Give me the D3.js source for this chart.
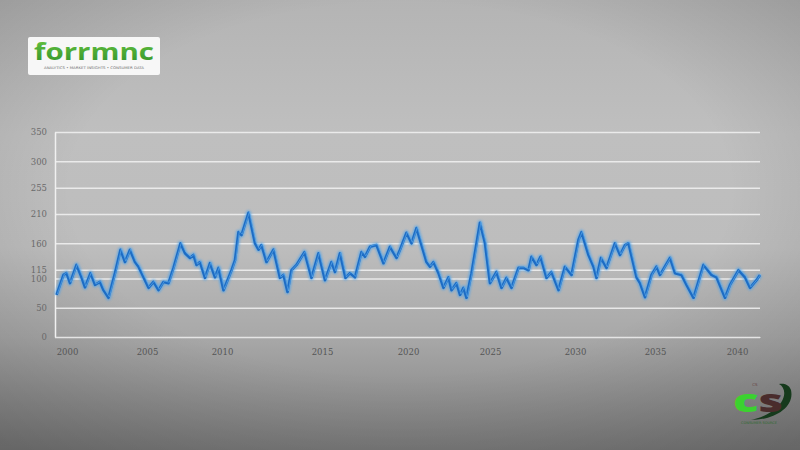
<!DOCTYPE html>
<html>
<head>
<meta charset="utf-8">
<script src="https://cdn.jsdelivr.net/npm/d3@7"></script>
<style>
  html, body { margin: 0; padding: 0; background: #9a9a9a; }
  svg { display: block; }
</style>
</head>
<body>
<svg id="chart" width="800" height="450"></svg>
<script>
// ---- data ----
const times = [3,17,23,30,43,53,60,71,80,90,97,107,120,131,140,150,160,167,177,187,197,207,217,227,237,251,260,270,277,283,290,300,310,320,327,337,353,360,367,373,387,400,407,413,423,437,450,457,465,473,483,499,513,527,540,553,560,570,581,590,600,613,620,630,643,657,670,683,690,703,713,723,733,743,750,757,767,777,787,793,803,810,817,823,833,850,860,870,883,893,903,913,927,937,947,953,963,971,983,993,1007,1020,1033,1047,1053,1067,1077,1083,1092,1103,1120,1130,1140,1147,1163,1170,1180,1193,1203,1210,1230,1240,1253,1263,1277,1297,1313,1323,1340,1350,1367,1380,1390,1403,1410];
const values = [72,106,109,92,123,102,85,109,89,94,80,67,109,149,128,149,128,120,102,84,94,80,94,92,118,160,143,135,140,123,128,101,126,102,118,80,114,131,179,174,212,160,149,157,128,149,101,106,77,114,123,145,101,143,97,128,111,143,101,109,102,145,137,154,157,126,154,135,149,178,160,186,157,128,120,128,109,84,102,80,92,72,84,67,109,195,160,92,111,84,101,84,118,118,114,137,123,137,101,111,80,120,106,166,179,140,120,101,135,118,160,140,157,160,102,92,68,106,120,106,135,109,106,89,67,123,106,102,67,89,114,102,84,97,106];
const yTicks = [0, 50, 100, 115, 160, 210, 255, 300, 350];
const xTickPos = [24, 184, 334, 534, 706, 870, 1040, 1200, 1364];
const xTickLabels = ["2000", "2005", "2010", "2015", "2020", "2025", "2030", "2035", "2040"];
const logoTitle = "forrmnc";
const logoSubtitle = "ANALYTICS • MARKET INSIGHTS • CONSUMER DATA";
const badgeTop = "CS";
const badgeBottom = "CONSUMER SOURCE";

// ---- layout ----
const svg = d3.select("#chart");
const W = 800, H = 450;
const plot = { left: 55, right: 760, top: 132, bottom: 337 };

const defs = svg.append("defs");
const bg = defs.append("linearGradient").attr("id", "bg").attr("x1", 0).attr("y1", 0).attr("x2", 0).attr("y2", 1);
[["0%", "#b4b4b4"], ["30%", "#bfbfbf"], ["55%", "#bdbdbd"], ["75%", "#a8a8a8"], ["100%", "#7c7c7c"]]
  .forEach(([o, c]) => bg.append("stop").attr("offset", o).attr("stop-color", c));
const vig = defs.append("radialGradient").attr("id", "vig").attr("cx", "50%").attr("cy", "42%").attr("r", "75%");
vig.append("stop").attr("offset", "55%").attr("stop-color", "#000").attr("stop-opacity", 0);
vig.append("stop").attr("offset", "100%").attr("stop-color", "#000").attr("stop-opacity", 0.18);
const glow = defs.append("filter").attr("id", "blur").attr("x", "-5%").attr("y", "-20%").attr("width", "110%").attr("height", "140%");
glow.append("feGaussianBlur").attr("stdDeviation", 1.1);

svg.append("rect").attr("width", W).attr("height", H).attr("fill", "url(#bg)");
svg.append("rect").attr("width", W).attr("height", H).attr("fill", "url(#vig)");

// ---- scales ----
const x = d3.scaleLinear().domain([0, 1410]).range([plot.left, plot.right]);
const y = d3.scaleLinear().domain([0, 350]).range([plot.bottom, plot.top]);

// grid lines
const gridG = svg.append("g").attr("transform", `translate(${plot.left},0)`)
  .call(d3.axisLeft(y).tickValues(yTicks).tickSize(-(plot.right - plot.left)).tickFormat(""));
gridG.select(".domain").remove();
gridG.selectAll(".tick line").attr("stroke", "#f2f2f2").attr("stroke-width", 1.5).attr("opacity", 0.85);

// y axis labels + left axis line
const yAxis = svg.append("g").attr("transform", `translate(${plot.left},0)`)
  .call(d3.axisLeft(y).tickValues(yTicks).tickSize(0).tickPadding(8).tickFormat(d3.format("d")));
yAxis.select(".domain").attr("stroke", "#f0f0f0").attr("stroke-width", 1.5);
yAxis.selectAll("text").attr("fill", "#6a6a6a").attr("font-family", "DejaVu Serif, serif").attr("font-size", 8.5);

// x axis
const xAxis = svg.append("g").attr("transform", `translate(0,${plot.bottom})`)
  .call(d3.axisBottom(x).tickValues(xTickPos).tickSize(0).tickPadding(12)
    .tickFormat((d, i) => xTickLabels[i]));
xAxis.select(".domain").attr("stroke", "#e4e4e4").attr("stroke-width", 1.2);
xAxis.selectAll("text").attr("fill", "#555").attr("font-family", "DejaVu Serif, serif").attr("font-size", 8.5);

// line
const pts = times.map((t, i) => [t, values[i]]);
const line = d3.line().x(d => x(d[0])).y(d => y(d[1]));
svg.append("path").datum(pts).attr("d", line)
  .attr("fill", "none").attr("stroke", "#4ea2ea").attr("stroke-width", 5)
  .attr("stroke-linejoin", "round").attr("opacity", 0.7).attr("filter", "url(#blur)");
svg.append("path").datum(pts).attr("d", line)
  .attr("fill", "none").attr("stroke", "#1d6cc4").attr("stroke-width", 2.6)
  .attr("stroke-linejoin", "round");
svg.append("path").datum(pts).attr("d", line)
  .attr("fill", "none").attr("stroke", "#69b5f2").attr("stroke-width", 0.8)
  .attr("stroke-linejoin", "round").attr("opacity", 0.7)
  .attr("transform", "translate(0.9,-0.9)");

// top-left logo
const logo = svg.append("g").attr("transform", "translate(28,37)");
logo.append("rect").attr("width", 132).attr("height", 38).attr("rx", 2).attr("fill", "#f7f7f7");
const lg = defs.append("linearGradient").attr("id", "lg").attr("x1", 0).attr("y1", 0).attr("x2", 0).attr("y2", 1);
lg.append("stop").attr("offset", "0%").attr("stop-color", "#6cc943");
lg.append("stop").attr("offset", "100%").attr("stop-color", "#2e8e28");
logo.append("text").attr("x", 6).attr("y", 23).text(logoTitle)
  .attr("font-family", "Open Sans, sans-serif").attr("font-weight", 700).attr("font-size", 23)
  .attr("fill", "url(#lg)").attr("textLength", 120).attr("lengthAdjust", "spacingAndGlyphs");
logo.append("text").attr("x", 66).attr("y", 32).text(logoSubtitle)
  .attr("text-anchor", "middle").attr("font-family", "DejaVu Sans, sans-serif").attr("font-size", 3.6)
  .attr("fill", "#6c6c6c").attr("textLength", 100).attr("lengthAdjust", "spacingAndGlyphs");

// bottom-right badge
const cs = svg.append("g").attr("transform", "translate(733,380)");
cs.append("text").attr("x", 22).attr("y", 6).text(badgeTop)
  .attr("text-anchor", "middle").attr("font-family", "DejaVu Sans, sans-serif").attr("font-size", 4).attr("fill", "#6a4a4a");
cs.append("path")
  .attr("d", "M18,40 C40,40 62,28 58,10 C56,4 50,3 46,4 C54,8 54,22 38,32 C32,36 24,39 18,40 Z")
  .attr("fill", "#163a1c");
cs.append("text").attr("x", 0).attr("y", 32)
  .attr("font-family", "Open Sans, sans-serif").attr("font-weight", 800).attr("font-size", 32)
  .attr("textLength", 50).attr("lengthAdjust", "spacingAndGlyphs")
  .selectAll("tspan").data([["c", "#3bd22f"], ["s", "#4a2c2c"]]).join("tspan")
  .text(d => d[0]).attr("fill", d => d[1]);
cs.append("text").attr("x", 26).attr("y", 44).text(badgeBottom)
  .attr("text-anchor", "middle").attr("font-family", "DejaVu Sans, sans-serif").attr("font-size", 3.5).attr("fill", "#2f6a2f");
</script>
</body>
</html>
